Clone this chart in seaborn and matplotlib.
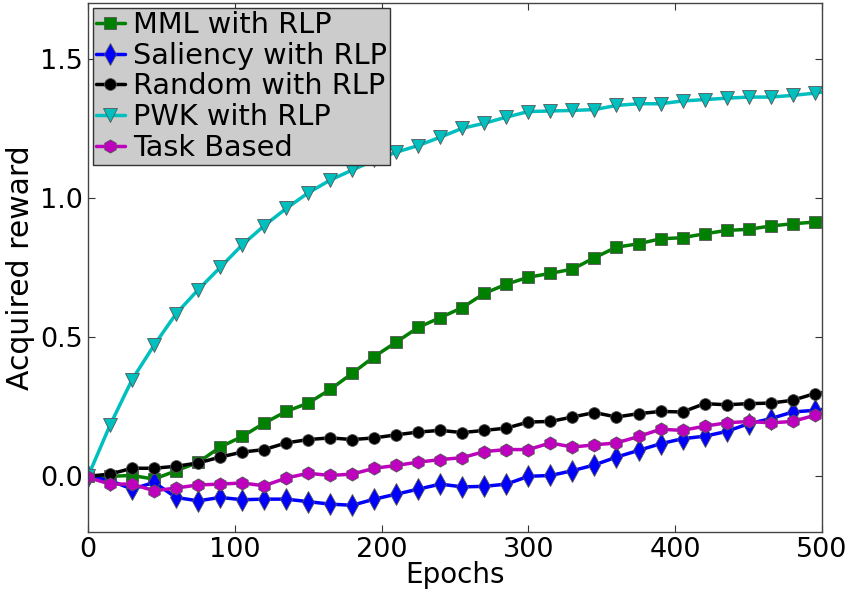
import numpy as np
import pandas as pd
import matplotlib
matplotlib.use("Agg")
import matplotlib.pyplot as plt
import seaborn as sns

# Epochs at which rewards were logged (every 15 epochs, plus the final epoch)
epochs = list(range(0, 496, 15)) + [500]

mml = [0.0, 0.0, 0.003, -0.01, 0.02, 0.05, 0.105, 0.143, 0.191, 0.233,
       0.263, 0.312, 0.37, 0.43, 0.482, 0.535, 0.57, 0.606, 0.657, 0.69,
       0.715, 0.729, 0.744, 0.785, 0.823, 0.835, 0.853, 0.857, 0.871, 0.883,
       0.887, 0.899, 0.907, 0.913, 0.915]
saliency = [0.0, -0.015, -0.046, -0.022, -0.076, -0.088, -0.076, -0.084, -0.082, -0.082,
            -0.091, -0.1, -0.104, -0.082, -0.064, -0.046, -0.028, -0.038, -0.036, -0.028,
            0.0, 0.003, 0.02, 0.041, 0.069, 0.093, 0.117, 0.135, 0.144, 0.161,
            0.189, 0.207, 0.231, 0.237, 0.24]
random_ = [0.0, 0.008, 0.029, 0.029, 0.036, 0.048, 0.069, 0.087, 0.096, 0.12,
           0.132, 0.138, 0.132, 0.138, 0.149, 0.159, 0.165, 0.157, 0.165, 0.173,
           0.195, 0.197, 0.213, 0.229, 0.213, 0.225, 0.233, 0.231, 0.261, 0.257,
           0.261, 0.263, 0.273, 0.297, 0.30]
pwk = [0.0, 0.184, 0.347, 0.471, 0.584, 0.67, 0.75, 0.831, 0.9, 0.962,
       1.018, 1.064, 1.10, 1.135, 1.164, 1.188, 1.218, 1.25, 1.268, 1.29,
       1.31, 1.312, 1.314, 1.317, 1.332, 1.338, 1.338, 1.348, 1.353, 1.358,
       1.362, 1.362, 1.368, 1.376, 1.38]
task = [-0.004, -0.028, -0.028, -0.052, -0.042, -0.031, -0.028, -0.024, -0.034, -0.006,
        0.011, 0.003, 0.008, 0.029, 0.039, 0.051, 0.06, 0.067, 0.089, 0.096,
        0.096, 0.12, 0.105, 0.113, 0.12, 0.143, 0.169, 0.165, 0.18, 0.192,
        0.197, 0.192, 0.197, 0.219, 0.225]

labels = ["MML with RLP", "Saliency with RLP", "Random with RLP", "PWK with RLP", "Task Based"]
series = [mml, saliency, random_, pwk, task]
colors = ["#008000", "#0000ff", "#000000", "#00bfbf", "#bf00bf"]
markers = ["s", "d", "o", "v", "h"]
msizes = [8.5, 11, 8.5, 9.5, 9.5]

sns.set_theme(style="white")
plt.rcParams["font.family"] = ["DejaVu Sans"]
plt.rcParams["text.color"] = "black"
plt.rcParams["axes.labelcolor"] = "black"
plt.rcParams["xtick.color"] = "black"
plt.rcParams["ytick.color"] = "black"
plt.rcParams["xtick.direction"] = "in"
plt.rcParams["ytick.direction"] = "in"

fig = plt.figure(figsize=(8.49, 5.90), dpi=100)
ax = fig.add_axes([0.1037, 0.0983, 0.8645, 0.8967])

n_marked = len(epochs) - 1
for vals, lab, col, mk, ms in zip(series, labels, colors, markers, msizes):
    df = pd.DataFrame({"Epochs": epochs, "reward": vals})
    sns.lineplot(data=df, x="Epochs", y="reward", ax=ax, color=col, lw=2.5,
                 marker=mk, markersize=ms, markeredgecolor="#555555",
                 markeredgewidth=0.6, markevery=list(range(n_marked)),
                 label=lab, legend=False)

ax.set_xlim(0, 500)
ax.set_ylim(-0.2, 1.7)
ax.set_xticks([0, 100, 200, 300, 400, 500])
ax.set_yticks([0.0, 0.5, 1.0, 1.5])
ax.set_yticklabels(["0.0", "0.5", "1.0", "1.5"])
ax.tick_params(axis="both", which="major", labelsize=19.5, length=5, width=0.8,
               top=True, right=True, bottom=True, left=True, color="#333333",
               labelcolor="black", pad=3.5)
ax.set_xlabel("Epochs", fontsize=20, labelpad=-1, color="black")
ax.set_ylabel("Acquired reward", fontsize=21.5, labelpad=4, color="black")
for sp in ax.spines.values():
    sp.set_color("#444444")
    sp.set_linewidth(1.0)

leg = ax.legend(loc="upper left", fontsize=20.7, frameon=True, fancybox=False,
                facecolor="#cccccc", edgecolor="#333333", framealpha=1.0,
                handlelength=1.0, handletextpad=0.3, labelspacing=0.1,
                borderpad=0.1, borderaxespad=0.17)
leg.get_frame().set_linewidth(1.0)
for t in leg.get_texts():
    t.set_color("black")

fig.savefig("out.png", dpi=100)
